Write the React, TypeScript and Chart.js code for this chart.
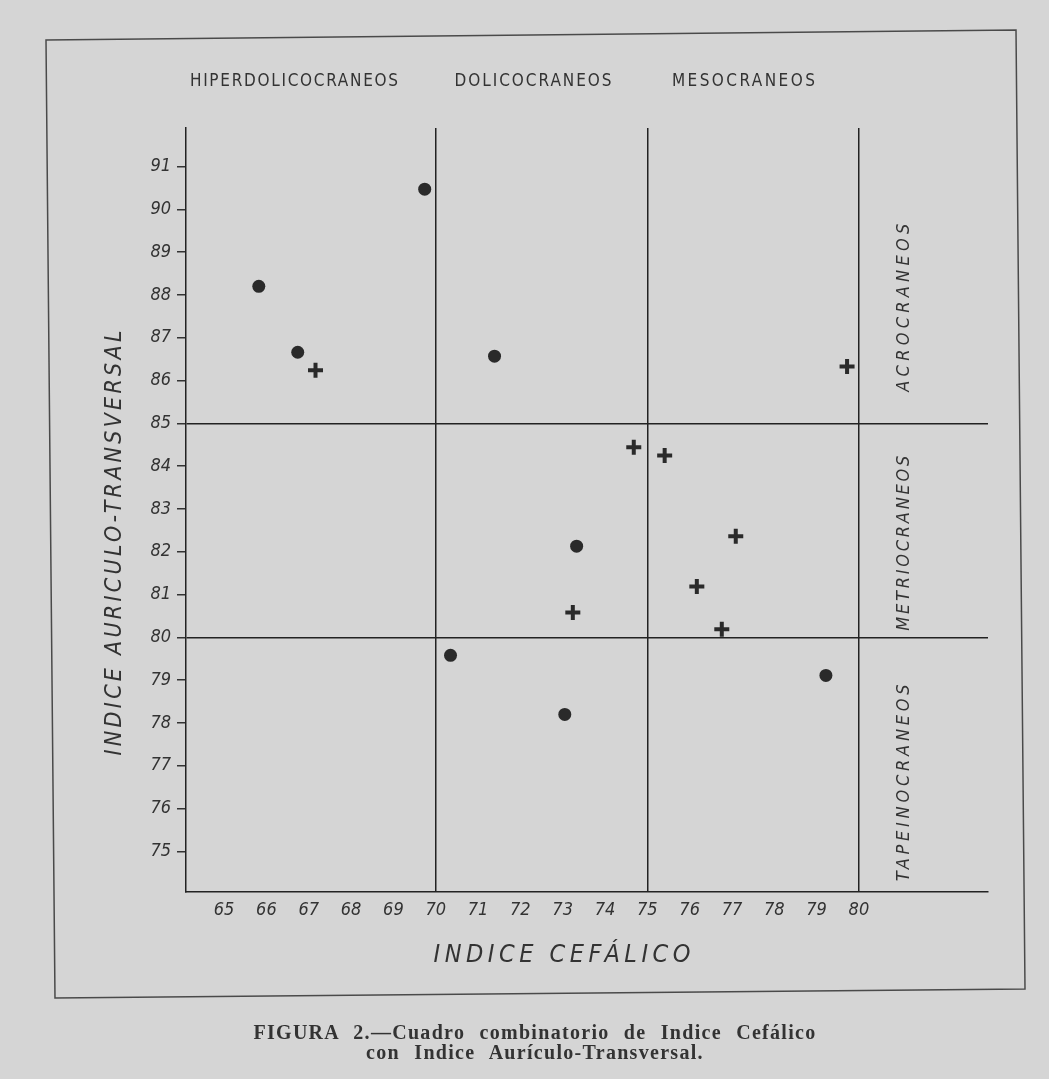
import React, { useEffect, useRef } from "react";
import { Chart, registerables } from "chart.js";

Chart.register(...registerables);

// ---- data ----
const dotX = [65.82, 66.74, 69.74, 71.39, 73.33, 70.35, 73.05, 79.22];
const dotY = [88.2, 86.66, 90.47, 86.57, 82.13, 79.58, 78.2, 79.11];
const crossX = [67.16, 74.68, 75.41, 77.09, 76.17, 73.24, 76.76, 79.72];
const crossY = [86.24, 84.44, 84.25, 82.36, 81.19, 80.58, 80.19, 86.33];
const xTickValues = [65, 66, 67, 68, 69, 70, 71, 72, 73, 74, 75, 76, 77, 78, 79, 80];
const yTickValues = [75, 76, 77, 78, 79, 80, 81, 82, 83, 84, 85, 86, 87, 88, 89, 90, 91];
const xDividers = [70, 75, 80];
const yDividers = [80, 85];
const topLabels = ["HIPERDOLICOCRANEOS", "DOLICOCRANEOS", "MESOCRANEOS"];
const rightLabels = ["ACROCRANEOS", "METRIOCRANEOS", "TAPEINOCRANEOS"];
const xTitle = "INDICE CEFÁLICO";
const yTitle = "INDICE AURICULO-TRANSVERSAL";
const captionLines = [
  "FIGURA 2.—Cuadro combinatorio de Indice Cefálico",
  "con Indice Aurículo-Transversal.",
];

const INK = "#2a2a2a";
const HAND = '"Liberation Sans Narrow", "DejaVu Sans Condensed", "DejaVu Sans", sans-serif';

function drawFitted(
  ctx: CanvasRenderingContext2D,
  text: string,
  cx: number,
  cy: number,
  target: number,
  font: string,
  rot: number
) {
  ctx.save();
  ctx.font = font;
  (ctx as any).letterSpacing = "0px";
  const w = ctx.measureText(text).width;
  const n = text.length;
  let sp = n > 1 ? (target - w) / (n - 1) : 0;
  if (sp < 0) sp = 0;
  (ctx as any).letterSpacing = sp.toFixed(2) + "px";
  const total = w + sp * (n - 1);
  ctx.translate(cx, cy);
  ctx.rotate(rot);
  ctx.textAlign = "left";
  ctx.textBaseline = "middle";
  ctx.fillStyle = "#333";
  ctx.fillText(text, -total / 2, 0);
  ctx.restore();
}

const decorPlugin = {
  id: "decor",
  afterDraw(chart: any) {
    const ctx: CanvasRenderingContext2D = chart.ctx;
    const xs = chart.scales.x;
    const ys = chart.scales.y;
    // frame
    ctx.save();
    ctx.strokeStyle = "#4a4a4a";
    ctx.lineWidth = 1.5;
    ctx.beginPath();
    ctx.moveTo(46, 40);
    ctx.lineTo(1016, 30);
    ctx.lineTo(1025, 989);
    ctx.lineTo(55, 998);
    ctx.closePath();
    ctx.stroke();
    ctx.restore();

    // top region labels
    const topCenters = [66.65, 72.3, 77.27];
    const topWidths = [208, 157, 143];
    topLabels.forEach((t, i) => {
      drawFitted(ctx, t, xs.getPixelForValue(topCenters[i]), 82, topWidths[i], `17px ${HAND}`, 0);
    });
    // right region labels
    const rightCenters = [87.7, 82.2, 76.6];
    const rightLens = [168, 175, 197];
    rightLabels.forEach((t, i) => {
      drawFitted(ctx, t, xs.getPixelForValue(81.08), ys.getPixelForValue(rightCenters[i]), rightLens[i], `italic 18px ${HAND}`, -Math.PI / 2);
    });
    // axis titles
    drawFitted(ctx, xTitle, 562, 955, 257, `italic 25px ${HAND}`, 0);
    drawFitted(ctx, yTitle, 115, 543, 425, `italic 23px ${HAND}`, -Math.PI / 2);
  },
};

export default function App() {
  const ref = useRef<HTMLCanvasElement>(null);
  useEffect(() => {
    document.body.style.background = "#d5d5d5";
    const canvas = ref.current!;
    const chart = new Chart(canvas, {
      type: "scatter",
      data: {
        datasets: [
          {
            label: "dots",
            data: dotX.map((x, i) => ({ x, y: dotY[i] })),
            pointStyle: "circle",
            pointRadius: 6.5,
            backgroundColor: INK,
            borderColor: INK,
            borderWidth: 0,
          },
          {
            label: "crosses",
            data: crossX.map((x, i) => ({ x, y: crossY[i] })),
            pointStyle: "cross",
            pointRadius: 7.5,
            borderWidth: 4,
            borderColor: INK,
            backgroundColor: INK,
          },
        ],
      },
      plugins: [decorPlugin],
      options: {
        animation: false,
        responsive: false,
        maintainAspectRatio: false,
        events: [],
        layout: { padding: { left: 0, top: 128, right: 61, bottom: 147 } },
        plugins: { legend: { display: false }, tooltip: { enabled: false } },
        scales: {
          x: {
            type: "linear",
            min: 64.1,
            max: 83.05,
            afterBuildTicks: (s: any) => {
              s.ticks = xTickValues.map((v) => ({ value: v }));
            },
            afterFit: (s: any) => {
              s.height = 40;
            },
            ticks: {
              font: { family: HAND, size: 18, style: "italic" },
              color: "#333",
              padding: 8,
              callback: (v: any) => String(v),
            },
            grid: {
              drawTicks: false,
              lineWidth: 1.5,
              color: (c: any) => (c.tick && xDividers.includes(c.tick.value) ? "#222" : "rgba(0,0,0,0)"),
            },
            border: { display: true, color: "#222", width: 1.5 },
          },
          y: {
            type: "linear",
            min: 74.05,
            max: 91.9,
            afterBuildTicks: (s: any) => {
              s.ticks = yTickValues.map((v) => ({ value: v }));
            },
            afterFit: (s: any) => {
              s.width = 186;
            },
            ticks: {
              font: { family: HAND, size: 18, style: "italic" },
              color: "#333",
              padding: 6,
              callback: (v: any) => String(v),
            },
            grid: {
              drawTicks: true,
              tickLength: 9,
              tickColor: "#333",
              lineWidth: 1.5,
              color: (c: any) => (c.tick && yDividers.includes(c.tick.value) ? "#222" : "rgba(0,0,0,0)"),
            },
            border: { display: true, color: "#222", width: 1.5 },
          },
        },
      },
    });
    return () => chart.destroy();
  }, []);

  return (
    <div style={{ position: "fixed", left: 0, top: 0, width: 1049, height: 1079, background: "#d5d5d5" }}>
      <canvas ref={ref} width={1049} height={1079} style={{ position: "absolute", left: 0, top: 0 }} />
      <div
        style={{
          position: "absolute",
          left: 0,
          width: 1070,
          top: 1022,
          textAlign: "center",
          fontFamily: '"Liberation Serif", "DejaVu Serif", serif',
          fontWeight: "bold",
          fontSize: 20,
          lineHeight: "20px",
          color: "#333",
          letterSpacing: "1.3px",
          wordSpacing: "8px",
          whiteSpace: "nowrap",
        }}
      >
        {captionLines.map((l, i) => (
          <div key={i}>{l}</div>
        ))}
      </div>
    </div>
  );
}
